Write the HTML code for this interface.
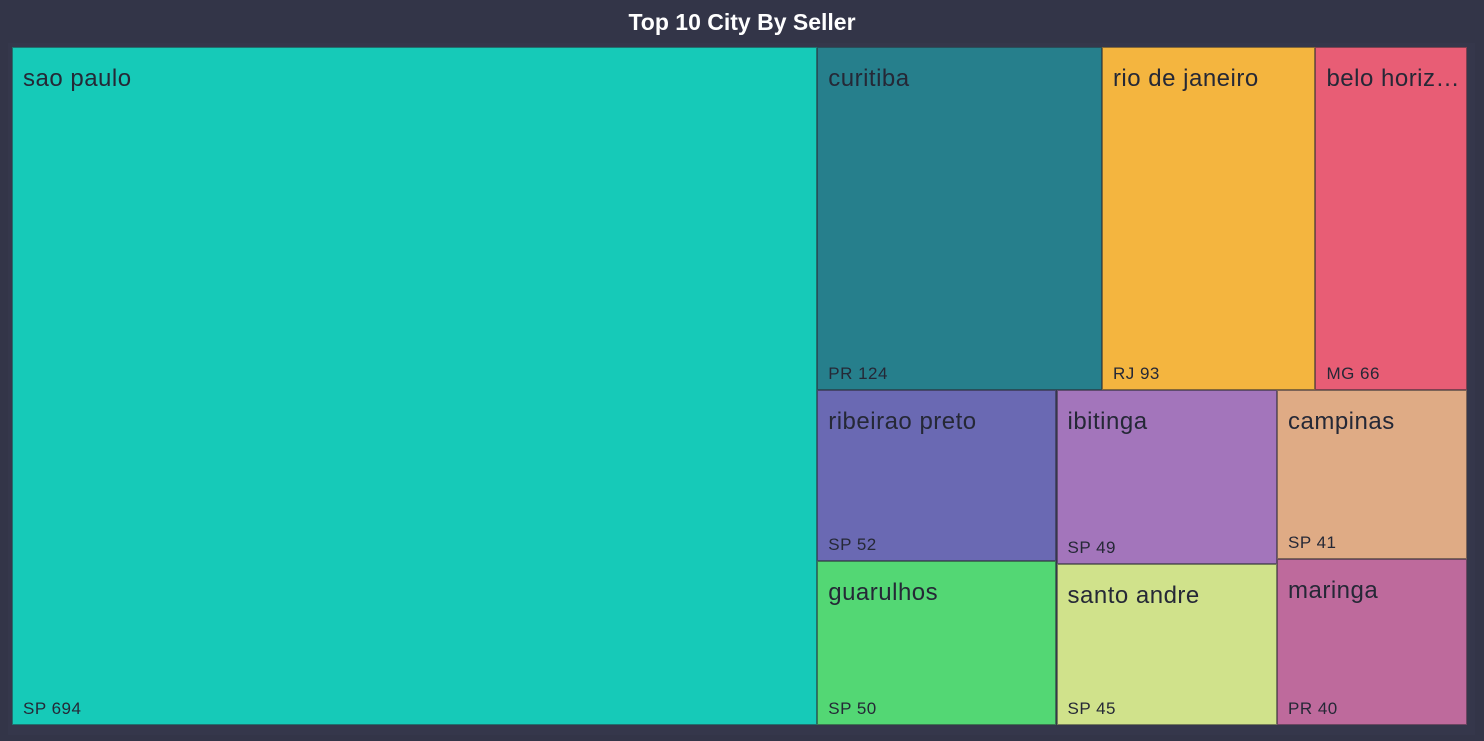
<!DOCTYPE html>
<html><head><meta charset="utf-8">
<style>
html,body{margin:0;padding:0;}
body{width:1484px;height:741px;background:#333548;position:relative;overflow:hidden;font-family:"Liberation Sans",sans-serif;}
#title{position:absolute;left:0;top:9px;width:1484px;text-align:center;color:#fff;font-weight:bold;font-size:23px;}
#frame{position:absolute;left:8px;top:43px;width:1467px;height:692px;background:#35374b;}
.tile{position:absolute;box-sizing:border-box;border:1px solid rgba(40,40,50,0.55);overflow:hidden;color:#252836;}
.name{position:absolute;left:10px;top:17px;right:6px;font-size:24px;white-space:nowrap;overflow:hidden;text-overflow:ellipsis;letter-spacing:0.5px;}
.val{position:absolute;left:10px;bottom:5px;font-size:17px;letter-spacing:0.5px;}
</style></head><body>
<div id="title">Top 10 City By Seller</div>
<div id="frame"></div>
<div id="chart"></div>
<script>
const cities = ["sao paulo","curitiba","rio de janeiro","belo horizonte","ribeirao preto","guarulhos","ibitinga","santo andre","campinas","maringa"];
const states = ["SP","PR","RJ","MG","SP","SP","SP","SP","SP","PR"];
const sellers = [694,124,93,66,52,50,49,45,41,40];
const colors = ["#16CAB8","#267F8C","#F4B53F","#E85D75","#6A69B3","#53D774","#A375BB","#D0E28B","#DFAB85","#BE6A9C"];

const X0=12,Y0=47,W=1455,H=678;
const chart=document.getElementById('chart');
function sum(idx){return idx.reduce((a,i)=>a+sellers[i],0);}
function tile(i,x,y,w,h){
  const d=document.createElement('div');
  d.className='tile';
  
  
  d.style.cssText=`left:${x}px;top:${y}px;width:${w}px;height:${h}px;background:${colors[i]}`;
  const n=document.createElement('div');n.className='name';n.textContent=cities[i];
  
  
  const v=document.createElement('div');v.className='val';v.textContent=states[i]+' '+sellers[i];
  
  
  d.appendChild(n);d.appendChild(v);chart.appendChild(d);
}
function splitCols(groups,x,y,w,h,fn){
  const tot=groups.reduce((a,g)=>a+sum(g),0);let cx=x;
  groups.forEach(g=>{const gw=w*sum(g)/tot;fn(g,cx,y,gw,h);cx+=gw;});
}
function splitRows(groups,x,y,w,h,fn){
  const tot=groups.reduce((a,g)=>a+sum(g),0);let cy=y;
  groups.forEach(g=>{const gh=h*sum(g)/tot;fn(g,x,cy,w,gh);cy+=gh;});
}
const leaf=(g,x,y,w,h)=>tile(g[0],x,y,w,h);
splitCols([[0],[1,2,3,4,5,6,7,8,9]],X0,Y0,W,H,(g,x,y,w,h)=>{
  if(g.length===1){leaf(g,x,y,w,h);return;}
  splitRows([[1,2,3],[4,5,6,7,8,9]],x,y,w,h,(g2,x2,y2,w2,h2)=>{
    if(g2.length===3){splitCols([[1],[2],[3]],x2,y2,w2,h2,leaf);}
    else{
      splitCols([[4,5],[6,7],[8,9]],x2,y2,w2,h2,(g3,x3,y3,w3,h3)=>{
        splitRows(g3.map(i=>[i]),x3,y3,w3,h3,leaf);
      });
    }
  });
});
</script>
</body></html>
